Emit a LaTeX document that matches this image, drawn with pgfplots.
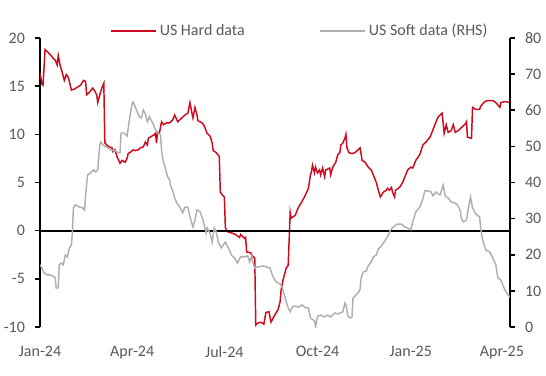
\documentclass[border=0pt]{standalone}
\usepackage{pgfplots}
\pgfplotsset{compat=1.18}
\usepackage{fontspec}
\setmainfont{Carlito}
\definecolor{hardred}{RGB}{205,10,30}
\definecolor{softgrey}{RGB}{175,175,175}
\definecolor{txtgrey}{RGB}{89,89,89}
\begin{document}
\begin{tikzpicture}
\useasboundingbox (-30pt,-36pt) rectangle (379.5pt,245.25pt);
\pgfplotsset{
  base/.style={
    scale only axis, width=352.5pt, height=216.75pt,
    xmin=0, xmax=464, at={(0pt,0pt)}, anchor=south west,
    tick align=outside, major tick length=3.75pt,
    every tick label/.append style={font=\fontsize{12}{14}\selectfont, text=txtgrey},
    /pgf/number format/assume math mode=true,
    y axis line style={black, line width=1.5pt},
    ytick style={black, line width=1.2pt},
  }
}
\begin{axis}[base,
  ymin=-10, ymax=20, ytick={-10,-5,...,20},
  axis y line*=left, axis x line*=bottom,
  x axis line style={draw=none}, xtick style={draw=none},
  xtick={0,91,182,274,366,456},
  xticklabels={Jan-24,Apr-24,Jul-24,Oct-24,Jan-25,Apr-25},
  xticklabel style={yshift=-7pt},
  yticklabel style={xshift=-4pt},
]
\addplot[hardred, line width=1.1pt] coordinates {
(0,16.4) (2,15.2) (3,15.1) (5,18.8) (8,18.5) (10,18.3) (13,17.9) (15,17.7) (17,17.2) (18,18.2)
(20,17.1) (22,16.4) (24,15.6) (26,16.2) (28,15.9) (31,14.6) (34,14.7) (37,14.9) (40,15.1) (43,15.6)
(45,15.5) (46,14.1) (49,14.4) (52,14.8) (54,14.5) (56,14.1) (57,13.3) (59,14.1) (61,14.8) (63,15.3)
(64,9.1) (66,8.9) (68,8.7) (71,8.6) (72,8.2) (74,8.4) (76,7.7) (79,7.0) (81,7.3) (84,7.1)
(86,7.5) (87,8.0) (90,8.2) (92,8.4) (94,8.3) (97,8.4) (99,8.6) (102,8.7) (104,9.2) (106,8.9)
(107,9.6) (110,9.8) (112,9.9) (114,10.1) (115,9.1) (116,10.2) (118,10.2) (120,11.3) (122,11.0) (125,11.2)
(128,11.2) (131,11.5) (133,12.0) (136,11.3) (140,11.7) (143,12.0) (146,12.2) (148,13.3) (150,12.2) (151,11.7)
(153,12.8) (155,12.0) (156,11.4) (160,11.2) (162,10.9) (165,10.1) (168,9.8) (170,9.1) (171,8.3) (174,8.1)
(177,7.7) (178,4.0) (180,3.7) (182,3.5) (183,0.3) (185,-0.1) (188,-0.2) (191,-0.3) (193,-0.4) (197,-0.7)
(198,-0.4) (202,-0.8) (203,-0.7) (204,-2.2) (208,-2.3) (210,-2.7) (212,-2.8) (213,-9.8) (215,-9.6) (218,-9.5)
(221,-9.7) (223,-8.5) (226,-8.4) (228,-9.5) (231,-8.9) (235,-8.2) (237,-7.4) (238,-6.2) (240,-5.1) (243,-3.9)
(245,-3.6) (247,1.9) (248,1.3) (252,1.6) (255,2.4) (258,2.9) (262,3.7) (265,4.4) (267,5.8) (268,6.1)
(269,6.8) (271,6.0) (272,6.6) (274,6.0) (276,6.3) (277,5.8) (279,6.5) (281,5.6) (282,6.3) (286,6.5)
(287,5.8) (289,6.6) (292,7.1) (294,7.9) (296,8.1) (297,8.9) (299,9.1) (301,9.6) (302,10.0) (303,8.6)
(305,8.1) (308,8.0) (311,8.1) (314,8.4) (316,8.6) (318,7.3) (321,7.1) (324,6.6) (327,6.3) (329,5.8)
(332,5.0) (334,4.2) (336,3.5) (339,4.0) (342,4.2) (343,4.4) (345,4.2) (347,4.5) (348,4.0) (350,3.5)
(351,4.2) (355,4.5) (358,5.0) (361,5.8) (363,6.3) (366,6.6) (368,6.5) (371,7.3) (375,7.9) (378,8.9)
(381,9.2) (385,9.7) (388,10.5) (391,11.3) (393,11.8) (397,12.2) (399,10.1) (401,11.0) (403,10.2) (406,10.4)
(408,11.0) (410,10.2) (413,10.4) (416,10.7) (420,11.1) (421,11.3) (422,9.7) (426,9.6) (427,12.8) (430,12.6)
(434,12.6) (435,12.9) (439,13.4) (442,13.5) (447,13.5) (450,13.3) (454,12.8) (455,13.3) (459,13.4) (464,13.3)
};
\addplot[black, line width=1.5pt] coordinates {(0,0) (464,0)};
\end{axis}
\begin{axis}[base,
  ymin=0, ymax=80, ytick={0,10,...,80},
  axis y line*=right, axis x line=none,
  yticklabel style={xshift=4pt},
  legend columns=2,
  legend image code/.code={\draw[#1] (0pt,0pt) -- (34pt,0pt);},
  legend style={at={(0.149,1.024)}, anchor=west, draw=none, fill=none,
    inner sep=0pt, font=\fontsize{12}{14}\selectfont, text=txtgrey,
    /tikz/every even column/.append style={column sep=54pt}},
]
\addlegendimage{hardred, line width=1.1pt}
\addlegendentry{US Hard data}
\addplot[softgrey, line width=1.1pt] coordinates {
(0,17.2) (2,16.3) (4,15.0) (7,14.4) (10,14.4) (13,14.1) (15,13.6) (16,10.8) (18,10.8) (19,17.2)
(21,17.7) (23,17.2) (25,19.9) (27,19.4) (29,21.9) (31,22.7) (32,26.3) (33,33.0) (35,33.8) (37,33.5)
(39,33.2) (42,33.0) (44,32.4) (45,36.6) (47,42.1) (50,42.7) (53,43.5) (55,42.9) (57,43.5) (59,50.4)
(60,51.2) (62,50.4) (64,50.1) (67,49.6) (70,49.0) (73,48.8) (76,48.5) (78,48.2) (79,48.2) (80,53.7)
(83,53.7) (86,52.9) (89,58.7) (91,62.0) (92,62.3) (94,60.9) (96,59.6) (98,58.2) (100,57.9) (102,60.1)
(104,59.0) (106,56.8) (108,58.2) (110,57.1) (112,56.0) (114,54.6) (116,53.7) (119,53.2) (120,49.0) (121,46.8)
(123,44.6) (126,41.6) (128,40.7) (129,39.1) (131,37.7) (133,35.7) (135,34.3) (138,33.2) (141,31.6) (143,33.2)
(146,33.2) (148,30.5) (151,27.7) (153,29.6) (155,32.4) (158,31.9) (161,29.6) (164,26.0) (165,27.4) (168,25.8)
(170,23.5) (172,27.4) (174,26.3) (176,23.5) (179,21.9) (183,23.5) (186,21.9) (189,19.9) (192,19.1) (195,17.7)
(198,19.4) (202,19.4) (205,19.7) (207,18.0) (209,19.7) (210,18.0) (212,16.3) (215,16.6) (220,16.9) (224,16.6)
(227,16.3) (230,13.9) (233,12.5) (237,11.9) (239,11.1) (242,8.0) (245,5.3) (247,4.2) (249,5.5) (252,5.8)
(255,5.5) (259,6.1) (262,5.3) (265,5.3) (267,2.5) (271,1.7) (272,0.0) (274,3.0) (277,3.3) (281,2.8)
(284,3.3) (287,2.8) (291,3.9) (294,3.6) (299,4.2) (301,6.6) (302,6.1) (304,3.0) (306,2.5) (308,2.8)
(309,8.0) (311,8.6) (314,9.4) (316,10.5) (317,13.6) (319,15.2) (322,15.5) (324,16.9) (327,18.0) (329,19.4)
(332,19.9) (334,21.6) (337,22.4) (341,24.1) (343,24.9) (346,26.9) (350,28.0) (353,28.5) (357,28.5) (360,27.7)
(365,27.1) (366,26.9) (368,29.1) (371,31.9) (375,33.2) (378,35.5) (380,37.7) (383,37.7) (386,37.4) (388,36.3)
(391,37.4) (393,36.8) (395,36.6) (398,39.3) (400,36.3) (403,35.7) (406,34.6) (410,34.3) (413,33.5) (415,31.9)
(416,29.9) (418,29.1) (421,29.6) (423,33.0) (425,36.0) (427,33.0) (430,31.3) (434,30.5) (435,27.4) (437,24.1)
(440,21.3) (444,20.8) (447,19.1) (450,17.2) (452,13.6) (455,13.0) (459,10.2) (462,8.9) (464,8.3)
};
\addlegendentry{US Soft data (RHS)}
\end{axis}
\end{tikzpicture}
\end{document}
